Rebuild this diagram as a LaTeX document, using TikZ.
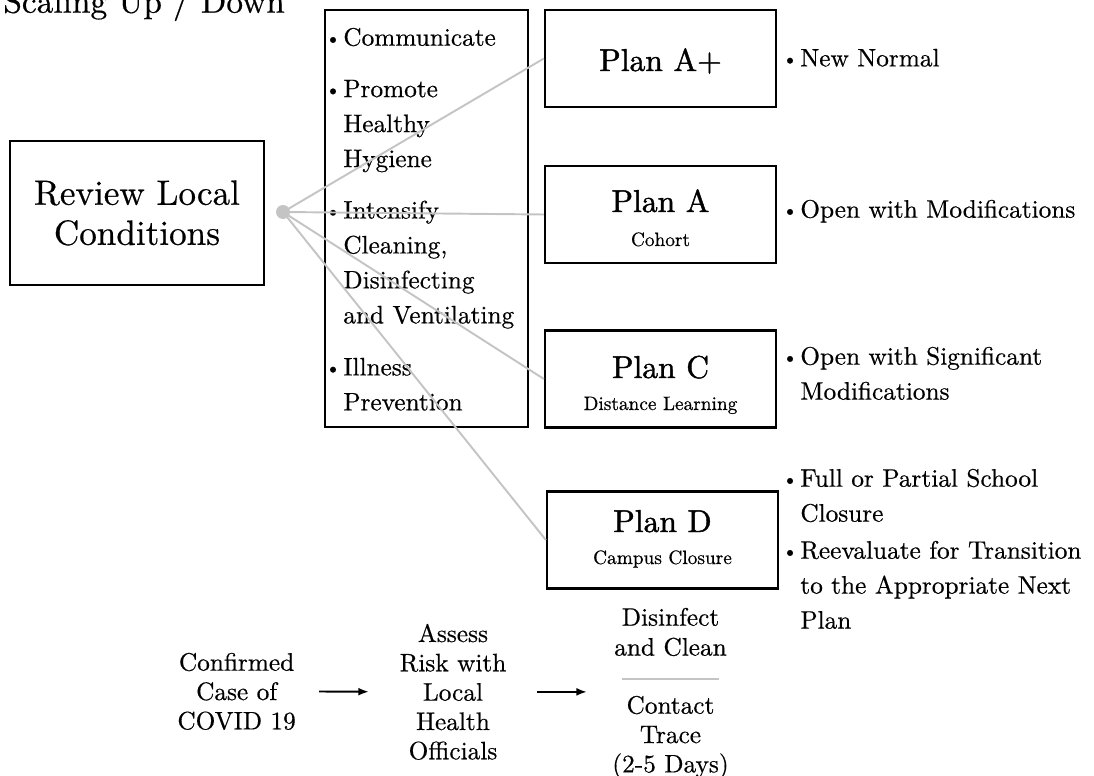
\documentclass[tikz,border=0pt]{standalone}
\usepackage{fontspec}
\setmainfont{lmroman10-regular.otf}[FakeBold=0.5]
\newfontfamily\planfont{lmroman10-regular.otf}[FakeBold=1.3]
\usepackage{graphicx}
\usepackage{tikz}
\usetikzlibrary{positioning,arrows.meta}

\newcommand{\bul}{\llap{\raisebox{0.6pt}{\scalebox{0.8}{\textbullet}}\hspace{1.4pt}}}

\begin{document}
\begin{tikzpicture}[x=0.02cm, y=-0.02cm,
  box/.style={draw, line width=1.3pt, inner sep=0pt},
  planbox/.style={box, minimum width=4.62cm, minimum height=1.94cm},
  txt/.style={inner sep=0pt, align=left, anchor=north west, font=\fontsize{14.4}{19.9}\selectfont},
  flow/.style={inner sep=0pt, align=center, anchor=north, font=\fontsize{14.4}{16.7}\selectfont},
  plantitle/.style={inner sep=0pt, anchor=base, font=\planfont\fontsize{18}{20}\selectfont},
  plansub/.style={inner sep=0pt, anchor=base, font=\fontsize{11}{13}\selectfont},
  link/.style={draw=black!23, line width=1.1pt},
  arr/.style={line width=1.1pt, -{Latex[length=6pt,width=4.5pt]}}]
  \useasboundingbox (0,0) rectangle (1094,776);

  \node[anchor=base west, inner sep=0pt, font=\fontsize{19}{21}\selectfont] (title) at (3,12.7) {Scaling Up / Down};

  % left box and hub
  \node[box, minimum width=5.08cm, minimum height=2.88cm, align=center,
        font=\fontsize{20}{22.8}\selectfont] (review) at (137,213) {Review Local\\Conditions};
  \node[circle, fill=black!23, minimum size=0.28cm, inner sep=0pt] (hub) at (283,212) {};

  % actions
  \node[box, minimum width=4.06cm, minimum height=8.34cm] (actions) at (426.5,218.5) {};
  \node[txt] (comm) at (343,27.5) {\bul Communicate};
  \node[txt] (prom) at (343,79.5) {\bul Promote\\Healthy\\Hygiene};
  \node[txt] (clean) at (343,200.3) {\bul Intensify\\Cleaning,\\Disinfecting\\and Ventilating};
  \node[txt] (ill) at (343,357.5) {\bul Illness\\Prevention};

  % plans
  \node[planbox] (planAp) at (660.5,58.5) {};
  \node[plantitle] (tAp) at (660.5,71) {Plan A+};

  \node[planbox] (planA) at (660.5,214.5) {};
  \node[plantitle] (tA) at (660.5,212) {Plan A};
  \node[plansub] (sA) at (660.5,246) {Cohort};

  \node[planbox] (planC) at (660.5,379) {};
  \node[plantitle] (tC) at (660.5,378) {Plan C};
  \node[plansub] (sC) at (660.5,410) {Distance Learning};

  \node[planbox] (planD) at (662.5,540) {};
  \node[plantitle] (tD) at (662.5,532) {Plan D};
  \node[plansub] (sD) at (662.5,564) {Campus Closure};

  % outcomes
  \node[txt] (newn) at (800,48.5) {\bul New Normal};
  \node[txt] (openm) at (800,199.5) {\bul Open with Modifications};
  \node[txt] (opens) at (800,346.5) {\bul Open with Significant\\Modifications};
  \node[txt] (closure) at (800,468.5) {\bul Full or Partial School\\Closure};
  \node[txt] (reeval) at (800,540.5) {\bul Reevaluate for Transition\\to the Appropriate Next\\Plan};

  \draw[link] (hub.center) -- (planAp.west);
  \draw[link] (hub.center) -- (planA.west);
  \draw[link] (hub.center) -- (planC.west);
  \draw[link] (hub.center) -- (planD.west);

  % confirmed case
  \node[flow] (conf) at (236.6,652.5) {Confirmed\\Case of\\COVID 19};
  \node[flow] (assess) at (453,623.5) {Assess\\Risk with\\Local\\Health\\Officials};
  \node[flow, font=\fontsize{14.4}{17}\selectfont] (disinf) at (670.5,607.5) {Disinfect\\and Clean};
  \node[flow] (trace) at (670.5,695.5) {Contact\\Trace\\(2-5 Days)};

  \draw[arr, shorten <=0.46cm, shorten >=0.61cm] (conf.east) -- (assess.east -| assess.west);
  \draw[arr, shorten <=0.61cm, shorten >=0.54cm] (assess.east) -- (assess.east -| disinf.west);
  \draw[link] (622,679) -- (719,679);

\end{tikzpicture}
\end{document}
